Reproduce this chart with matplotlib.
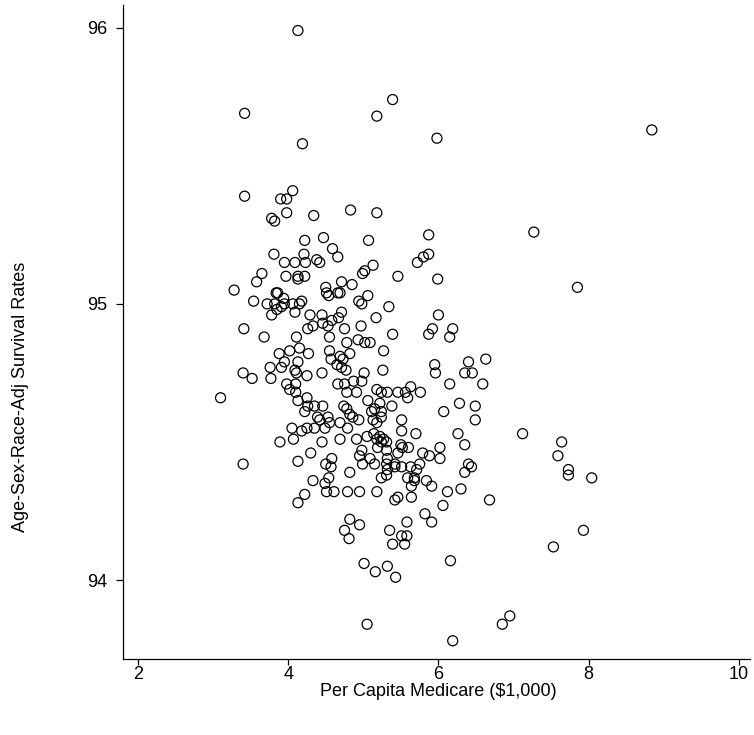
import numpy as np
import matplotlib.pyplot as plt

plt.rcParams['font.family'] = ['Liberation Sans', 'DejaVu Sans']

# Per capita Medicare spending ($1,000) and adjusted survival rates
spending = [
    4.13, 3.42, 4.19, 5.39, 5.18, 5.98, 8.84,
    3.42, 3.90, 3.98, 4.06, 3.98, 3.78, 3.82, 4.34, 4.22, 4.47, 4.59, 3.81, 4.21,
    3.95, 4.09, 4.23, 4.38, 4.42, 3.65, 3.58, 3.97, 4.13, 4.22, 4.13, 3.28, 3.54,
    3.72, 3.84, 3.86, 3.82, 3.94, 3.95, 3.91, 3.85, 3.78, 4.06, 4.18, 4.15, 4.09,
    4.29, 4.50, 4.51, 4.54, 4.45, 4.46, 4.33, 4.26, 4.53, 4.58, 3.41, 3.68, 4.11,
    4.55,
    4.83, 5.18, 5.07, 5.87, 5.87, 5.80, 5.72, 4.66, 5.13, 5.02, 4.99, 5.46, 5.99,
    4.71, 4.85, 4.66, 4.69, 5.06, 4.94, 4.98, 5.34, 4.71, 4.67, 5.17, 6.00, 5.92,
    5.87, 6.19, 6.15, 4.75, 4.97, 5.39, 4.78, 5.02, 5.09, 4.93,
    7.27, 7.85,
    3.88, 4.02, 4.15, 4.27, 3.95, 3.91, 3.76, 3.40, 3.52, 3.77, 4.09, 4.11, 4.13,
    4.25, 4.45, 4.55, 4.57, 4.65, 3.98, 4.02, 4.10, 4.10, 4.13, 4.25, 3.10, 4.26,
    4.35, 4.46, 4.22, 4.39, 4.42, 4.53, 4.55, 4.49, 4.05, 4.07, 4.18, 4.25, 4.35,
    4.45, 3.89, 4.30, 4.13, 3.40, 4.50, 4.58, 4.57, 4.54, 4.49, 4.33, 4.51, 4.22,
    4.13, 4.61,
    5.27, 4.69, 4.73, 4.82, 4.71, 4.77, 5.01, 5.26, 5.95, 5.96, 6.15, 6.35, 4.66,
    4.75, 4.87, 4.98, 4.78, 4.91, 5.18, 5.24, 5.32, 5.46, 5.56, 5.59, 5.63, 5.76,
    5.06, 5.22, 5.38, 4.74, 4.78, 4.82, 4.86, 4.94, 4.69, 4.79, 5.11, 5.15, 5.13,
    5.24, 5.24, 5.18, 5.51, 5.51, 5.70, 6.07, 6.28, 6.26, 6.35, 4.69, 4.91, 5.05,
    5.14, 5.18, 5.22, 5.27, 5.31, 5.24, 5.19, 5.31, 5.50, 5.60, 5.52, 5.46, 5.79,
    5.88, 6.02, 6.02, 4.98, 4.95, 4.99, 5.09, 5.15, 5.32, 5.31, 5.42, 5.51, 5.42,
    5.63, 5.75, 5.71, 5.32, 5.24, 5.31, 5.59, 5.68, 5.64, 5.68, 5.84, 5.91, 4.82,
    4.79, 4.95, 5.18, 6.12, 6.30, 6.35, 5.42, 5.46, 5.64,
    6.63, 6.40, 6.45, 6.59, 6.49, 6.49, 7.12, 7.64, 7.59, 7.73, 7.73, 8.04, 6.40,
    6.44, 6.68,
    6.06, 4.82, 4.75, 4.81, 4.95, 5.35, 5.39, 5.58, 5.51, 5.58, 5.55, 5.82, 5.91,
    5.01, 5.16, 5.32, 5.43, 6.16, 5.05, 6.19,
    7.93, 7.53, 6.85, 6.95,
]

survival = [
    95.99, 95.69, 95.58, 95.74, 95.68, 95.60, 95.63,
    95.39, 95.38, 95.38, 95.41, 95.33, 95.31, 95.30, 95.32, 95.23, 95.24, 95.20, 95.18, 95.18,
    95.15, 95.15, 95.15, 95.16, 95.15, 95.11, 95.08, 95.10, 95.10, 95.10, 95.09, 95.05, 95.01,
    95.00, 95.04, 95.04, 95.00, 95.02, 95.00, 94.99, 94.98, 94.96, 95.00, 95.01, 95.00, 94.97,
    94.96, 95.06, 95.04, 95.03, 94.96, 94.93, 94.92, 94.91, 94.92, 94.94, 94.91, 94.88, 94.88,
    94.88,
    95.34, 95.33, 95.23, 95.25, 95.18, 95.17, 95.15, 95.17, 95.14, 95.12, 95.11, 95.10, 95.09,
    95.08, 95.07, 95.04, 95.04, 95.03, 95.01, 95.00, 94.99, 94.97, 94.95, 94.95, 94.96, 94.91,
    94.89, 94.91, 94.88, 94.91, 94.92, 94.89, 94.86, 94.86, 94.86, 94.87,
    95.26, 95.06,
    94.82, 94.83, 94.84, 94.82, 94.79, 94.77, 94.77, 94.75, 94.73, 94.73, 94.76, 94.75, 94.79,
    94.74, 94.75, 94.83, 94.80, 94.78, 94.71, 94.69, 94.71, 94.68, 94.65, 94.66, 94.66, 94.63,
    94.63, 94.63, 94.61, 94.59, 94.58, 94.59, 94.57, 94.55, 94.55, 94.51, 94.54, 94.55, 94.55,
    94.50, 94.50, 94.46, 94.43, 94.42, 94.42, 94.44, 94.41, 94.37, 94.35, 94.36, 94.32, 94.31,
    94.28, 94.32,
    94.83, 94.81, 94.80, 94.82, 94.77, 94.76, 94.75, 94.76, 94.78, 94.75, 94.71, 94.75, 94.71,
    94.71, 94.72, 94.72, 94.68, 94.68, 94.69, 94.68, 94.68, 94.68, 94.68, 94.66, 94.70, 94.68,
    94.65, 94.64, 94.63, 94.63, 94.62, 94.60, 94.59, 94.58, 94.57, 94.55, 94.61, 94.62, 94.58,
    94.61, 94.59, 94.57, 94.58, 94.54, 94.53, 94.61, 94.64, 94.53, 94.49, 94.51, 94.51, 94.52,
    94.53, 94.51, 94.52, 94.51, 94.50, 94.50, 94.48, 94.47, 94.49, 94.48, 94.48, 94.46, 94.46,
    94.45, 94.48, 94.44, 94.47, 94.45, 94.42, 94.44, 94.42, 94.44, 94.42, 94.42, 94.41, 94.41,
    94.41, 94.42, 94.40, 94.40, 94.37, 94.38, 94.37, 94.37, 94.34, 94.36, 94.36, 94.34, 94.39,
    94.32, 94.32, 94.32, 94.32, 94.33, 94.39, 94.29, 94.30, 94.30,
    94.80, 94.79, 94.75, 94.71, 94.63, 94.58, 94.53, 94.50, 94.45, 94.40, 94.38, 94.37, 94.42,
    94.41, 94.29,
    94.27, 94.22, 94.18, 94.15, 94.20, 94.18, 94.13, 94.21, 94.16, 94.16, 94.13, 94.24, 94.21,
    94.06, 94.03, 94.05, 94.01, 94.07, 93.84, 93.78,
    94.18, 94.12, 93.84, 93.87,
]

x_ticks = [2, 4, 6, 8, 10]
y_ticks = [94, 95, 96]

fig = plt.figure(figsize=(7.54, 7.35), dpi=100)
ax = fig.add_axes([0.163, 0.1034, 0.832, 0.890])

ax.scatter(spending, survival, s=52, facecolors='none', edgecolors='black',
           linewidths=0.9, marker='o')

ax.set_xlim(1.80, 10.15)
ax.set_ylim(93.714, 96.083)
ax.set_xticks(x_ticks)
ax.set_yticks(y_ticks)
ax.tick_params(axis='both', labelsize=13, length=5, width=0.9, direction='out')
ax.tick_params(axis='x', length=4, pad=1)
ax.tick_params(axis='y', pad=6)

ax.spines['top'].set_visible(False)
ax.spines['right'].set_visible(False)
ax.spines['left'].set_linewidth(0.9)
ax.spines['bottom'].set_linewidth(0.9)

ax.set_xlabel('Per Capita Medicare ($1,000)', fontsize=13)
ax.xaxis.set_label_coords(0.502, -0.036)
ax.set_ylabel('Age-Sex-Race-Adj Survival Rates', fontsize=13)
ax.yaxis.set_label_coords(-0.150, 0.40)

plt.savefig('out.png', dpi=100)
